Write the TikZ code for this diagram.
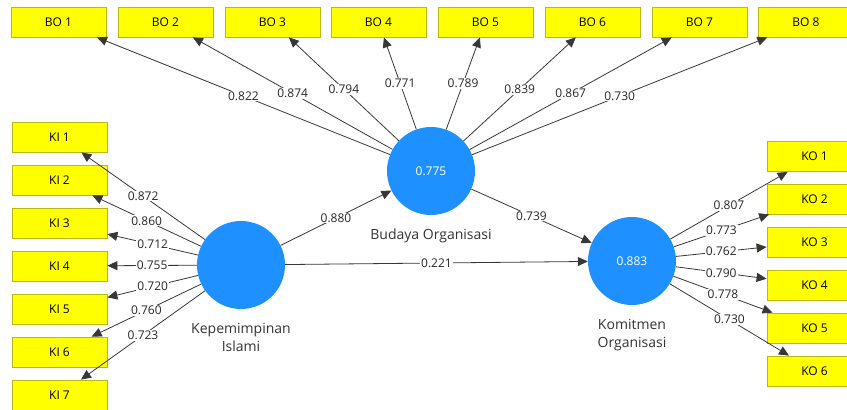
\documentclass[tikz,border=0pt]{standalone}
\usepackage{fontspec}
\setmainfont{Open Sans}
\usetikzlibrary{positioning,arrows.meta}
\definecolor{plsKuning}{RGB}{255,255,0}
\definecolor{plsKuningTepi}{RGB}{185,185,20}
\definecolor{plsBiru}{RGB}{30,144,255}
\definecolor{plsPanah}{RGB}{55,55,55}

\begin{document}
\begin{tikzpicture}[
  x=1pt, y=-1pt, every node/.style={font=\fontsize{12}{15}\selectfont},
  ind/.style={draw=plsKuningTepi, line width=0.8pt, fill=plsKuning, minimum width=95pt,
              minimum height=30pt, inner sep=0pt},
  lv/.style={circle, fill=plsBiru, minimum size=88pt, inner sep=0pt, text=white},
  nama/.style={align=center, text=black!80, inner sep=2pt, font=\fontsize{14}{18}\selectfont},
  jalur/.style={-{Triangle[length=10pt,width=9pt]}, plsPanah, line width=0.8pt},
  bobot/.style={midway, fill=white, inner sep=1pt, text=black!85}
]
\useasboundingbox (0,0) rectangle (847,410);

% variabel laten
\node[lv] (ki) at (241,265) {};
\node[lv] (bo) at (431,171) {0.775};
\node[lv] (ko) at (632,261) {0.883};
\node[nama, below=12pt of ki] (kinama) {Kepemimpinan\\Islami};
\node[nama, below=11pt of bo] (bonama) {Budaya Organisasi};
\node[nama, below=12pt of ko] (konama) {Komitmen\\Organisasi};

% indikator budaya organisasi
\node[ind] (bo1) at (58.5,22)  {BO 1};
\node[ind] (bo2) at (165.5,22) {BO 2};
\node[ind] (bo3) at (272.5,22) {BO 3};
\node[ind] (bo4) at (378.5,22) {BO 4};
\node[ind] (bo5) at (485.5,22) {BO 5};
\node[ind] (bo6) at (592.5,22) {BO 6};
\node[ind] (bo7) at (699.5,22) {BO 7};
\node[ind] (bo8) at (806,22)   {BO 8};

% indikator kepemimpinan islami
\node[ind] (ki1) at (59.5,137) {KI 1};
\node[ind] (ki2) at (59.5,180) {KI 2};
\node[ind] (ki3) at (59.5,223) {KI 3};
\node[ind] (ki4) at (59.5,266) {KI 4};
\node[ind] (ki5) at (59.5,309) {KI 5};
\node[ind] (ki6) at (59.5,352) {KI 6};
\node[ind] (ki7) at (59.5,395) {KI 7};

% indikator komitmen organisasi
\node[ind] (ko1) at (814.5,156.5) {KO 1};
\node[ind] (ko2) at (814.5,199)   {KO 2};
\node[ind] (ko3) at (814.5,242)   {KO 3};
\node[ind] (ko4) at (814.5,285)   {KO 4};
\node[ind] (ko5) at (814.5,328)   {KO 5};
\node[ind] (ko6) at (814.5,371)   {KO 6};

% outer loadings
\draw[jalur] (bo) -- (bo1) node[bobot] {0.822};
\draw[jalur] (bo) -- (bo2) node[bobot] {0.874};
\draw[jalur] (bo) -- (bo3) node[bobot] {0.794};
\draw[jalur] (bo) -- (bo4) node[bobot] {0.771};
\draw[jalur] (bo) -- (bo5) node[bobot] {0.789};
\draw[jalur] (bo) -- (bo6) node[bobot] {0.839};
\draw[jalur] (bo) -- (bo7) node[bobot] {0.867};
\draw[jalur] (bo) -- (bo8) node[bobot] {0.730};

\draw[jalur] (ki) -- (ki1) node[bobot] {0.872};
\draw[jalur] (ki) -- (ki2) node[bobot] {0.860};
\draw[jalur] (ki) -- (ki3) node[bobot] {0.712};
\draw[jalur] (ki) -- (ki4) node[bobot] {0.755};
\draw[jalur] (ki) -- (ki5) node[bobot] {0.720};
\draw[jalur] (ki) -- (ki6) node[bobot] {0.760};
\draw[jalur] (ki) -- (ki7) node[bobot] {0.723};

\draw[jalur] (ko) -- (ko1) node[bobot] {0.807};
\draw[jalur] (ko) -- (ko2) node[bobot] {0.773};
\draw[jalur] (ko) -- (ko3) node[bobot] {0.762};
\draw[jalur] (ko) -- (ko4) node[bobot] {0.790};
\draw[jalur] (ko) -- (ko5) node[bobot] {0.778};
\draw[jalur] (ko) -- (ko6) node[bobot] {0.730};

% jalur struktural
\draw[jalur] (ki) -- (bo) node[bobot] {0.880};
\draw[jalur] (ki) -- (ko) node[bobot] {0.221};
\draw[jalur] (bo) -- (ko) node[bobot] {0.739};
\end{tikzpicture}
\end{document}
